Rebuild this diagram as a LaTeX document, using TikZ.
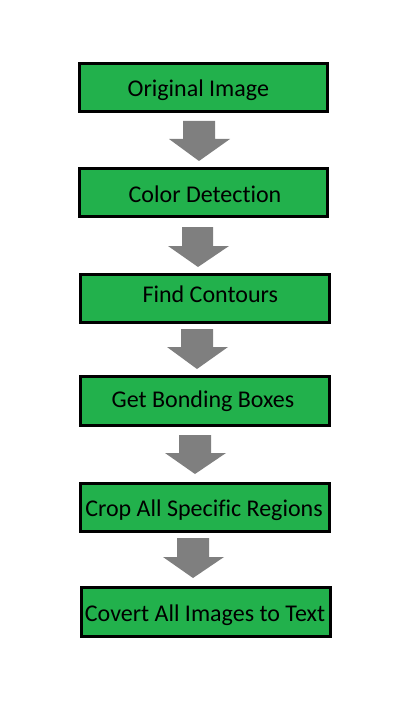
\documentclass[tikz,border=0pt]{standalone}
\usepackage{fontspec}
\setmainfont[Ligatures=NoCommon]{Carlito}
\definecolor{boxgreen}{HTML}{22B14C}
\definecolor{arrowgray}{HTML}{7F7F7F}
\tikzset{
  stepbox/.style={draw=black, fill=boxgreen, line width=3pt},
  steptext/.style={anchor=base, inner sep=0pt, font=\fontsize{24}{28}\selectfont, text=black},
  blockarrow/.style={fill=arrowgray, draw=none}
}
\begin{document}
\begin{tikzpicture}[x=1pt,y=-1pt]
\useasboundingbox (0,0) rectangle (406,719);
% boxes (outer edges minus half line width)
\draw[stepbox] (79.5,63.5) rectangle (327.5,111.5) coordinate (b1);
\draw[stepbox] (79.5,168.5) rectangle (327.5,216.5) coordinate (b2);
\draw[stepbox] (80.5,274.5) rectangle (329.5,322.5) coordinate (b3);
\draw[stepbox] (80.5,376.5) rectangle (329.5,425.5) coordinate (b4);
\draw[stepbox] (80.5,483.5) rectangle (329.5,531.5) coordinate (b5);
\draw[stepbox] (81.5,587.5) rectangle (330.5,636.5) coordinate (b6);
% texts
\node[steptext] (t1) at (198.3,96.7) {Original Image};
\node[steptext] (t2) at (205,202.7) {Color Detection};
\node[steptext] (t3) at (210.3,302.7) {Find Contours};
\node[steptext] (t4) at (203,407.7) {Get Bonding Boxes};
\node[steptext] (t5) at (204,516.7) {Crop All Specific Regions};
\node[steptext] (t6) at (205,621.7) {Covert All Images to Text};
% block arrows
\fill[blockarrow] (183,121) -- (215,121) -- (215,139) -- (230,139) -- (199,161) -- (169,139) -- (183,139) -- cycle;
\fill[blockarrow] (182,227) -- (213,227) -- (213,246) -- (229,246) -- (198,267) -- (168,246) -- (182,246) -- cycle;
\fill[blockarrow] (181,329) -- (213,329) -- (213,347) -- (228,347) -- (197,369) -- (167,347) -- (181,347) -- cycle;
\fill[blockarrow] (179,435) -- (211,435) -- (211,453) -- (226,453) -- (195,474) -- (165,453) -- (179,453) -- cycle;
\fill[blockarrow] (177,538) -- (209,538) -- (209,557) -- (224,557) -- (193,578) -- (163,557) -- (177,557) -- cycle;
\end{tikzpicture}
\end{document}
